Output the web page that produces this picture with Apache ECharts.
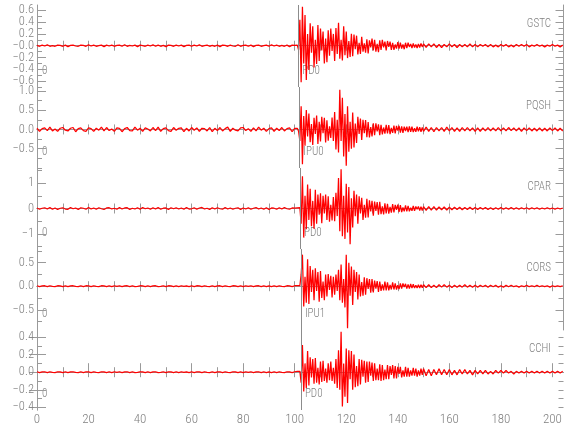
<!DOCTYPE html>
<html><head><meta charset="utf-8">
<script src="https://cdn.jsdelivr.net/npm/echarts@6/dist/echarts.min.js"></script>
<style>html,body{margin:0;padding:0;background:#fff}#c{width:580px;height:440px}</style>
</head><body><div id="c"></div>
<script>
// ---------- data ----------
const stations = ['GSTC', 'PQSH', 'CPAR', 'CORS', 'CCHI'];
const pickLabels = ['PD0', 'IPU0', 'PD0', 'IPU1', 'PD0'];
const pickTimes = [101.4, 101.8, 102.1, 102.4, 102.4];
const originLabel = '0';
const xTickLabels = [0, 20, 40, 60, 80, 100, 120, 140, 160, 180, 200];

// sampling of the three segments (seconds)
const preStart = 0, preStep = 1;
const mainStart = 101, mainStep = 0.5;
const codaStart = 151, codaStep = 1;

const gstcPre = [.005,-.01,.01,-.005,.015,-.01,0,-.01,.01,.005,
 -.01,.01,-.015,.005,.01,-.005,-.01,.01,.005,-.01,
 .015,-.005,.01,-.01,0,.01,-.015,.01,-.005,.01,
 -.01,.005,.01,-.01,.015,-.01,.005,-.005,.01,-.015,
 .01,0,-.01,.01,-.005,.015,-.01,.01,-.01,.005,
 -.015,.01,.005,-.01,.01,-.005,.01,-.015,.005,.01,
 -.01,.01,-.005,.015,-.01,0,.01,-.01,.005,-.01,
 .01,-.015,.01,.005,-.01,.01,-.005,-.01,.015,-.01,
 .005,.01,-.01,.01,-.015,.005,.01,-.01,0,.01,
 -.01,.015,-.005,.01,-.01,.005,-.01,.01,-.015,.01,
 .005];
const gstcMain = [.01,-.07,.44,-.62,.66,-.3,.52,-.58,.2,-.41,
 .38,-.12,.33,-.37,.1,-.31,.35,-.26,.29,-.08,
 .24,-.3,.12,-.28,.26,-.17,.29,-.09,.2,-.26,
 .3,-.14,.39,-.22,.1,-.25,.33,-.16,.24,-.21,
 .08,-.19,.2,-.18,.19,-.06,.17,-.15,.05,-.14,
 .15,-.1,.04,-.12,.11,-.13,.09,-.03,.12,-.08,
 .1,-.1,.03,-.11,.09,-.07,.1,-.03,.07,-.08,
 .08,-.02,.07,-.07,.05,-.07,.02,-.05,.06,-.05,
 .05,-.05,.02,-.06,.05,-.04,.05,-.02,.03,-.04,
 .04,-.03,.02,-.04,.03,-.03,.04,-.02,.03];
const gstcCoda = [-.03,.03,-.02,.03,-.03,.02,-.03,.02,-.02,.03,
 -.02,.02,-.03,.02,-.02,.02,-.02,.03,-.02,.02,
 -.02,.02,-.01,.02,-.02,.02,-.02,.01,-.02,.02,
 -.01,.02,-.02,.01,-.02,.02,-.01,.02,-.01,.02,
 -.02,.01,-.01,.02,-.01,.01,-.02,.01,-.01,.02,
 -.01,.01,-.02,.01];

const pqshPre = [.03,-.05,.02,.04,-.03,.06,-.04,.01,-.05,.03,
 .05,-.02,-.04,.03,.05,-.06,.02,.04,-.03,-.05,
 .04,.02,-.05,.03,-.02,.06,-.04,.05,-.03,.01,
 -.05,.04,.03,-.06,.02,.05,-.03,-.04,.06,-.02,
 .03,-.05,.04,.01,-.04,.05,-.03,.06,-.05,.02,
 .04,-.03,-.05,.05,-.02,.03,.04,-.06,.03,-.04,
 .05,-.02,.04,-.05,.03,.02,-.04,.05,-.06,.03,
 -.03,.05,-.04,.02,.06,-.05,.03,-.02,-.04,.04,
 .05,-.03,.02,-.05,.04,-.04,.06,-.02,.03,-.05,
 .02,.04,-.05,.03,-.03,.05,-.04,.02,.04,-.06,
 .03];
const pqshMain = [.03,-.05,-.3,.6,-.9,.35,-.42,.5,-.18,.41,
 -.33,.14,-.4,.3,-.12,.36,-.38,.2,-.31,.33,
 -.1,.3,-.34,.24,-.29,.08,-.22,.31,-.3,.45,
 -.52,.25,-.6,1.03,-.3,.82,-.7,.4,-.94,.6,
 -.58,.2,-.5,.44,-.47,.15,-.35,.33,-.12,.28,
 -.27,.25,-.1,.24,-.2,.19,-.21,.06,-.18,.16,
 -.15,.16,-.05,.13,-.15,.12,-.13,.05,-.11,.12,
 -.1,.11,-.12,.04,-.09,.1,-.1,.09,-.03,.09,
 -.08,.08,-.09,.07,-.04,.07,-.07,.08,-.06,.07,
 -.07,.03,-.06,.07,-.05,.06,-.06,.05,-.05];
const pqshCoda = [.06,-.05,.05,-.06,.05,-.04,.05,-.05,.06,-.04,
 .05,-.05,.04,-.05,.05,-.04,.05,-.04,.04,-.05,
 .04,-.05,.04,-.04,.05,-.04,.04,-.04,.05,-.04,
 .04,-.04,.05,-.03,.04,-.04,.04,-.05,.04,-.03,
 .04,-.04,.03,-.04,.04,-.04,.03,-.04,.04,-.03,
 .04,-.04,.03,-.04];

const cparPre = [.02,-.03,.01,.03,-.02,.04,-.03,.02,-.04,.01,
 .03,-.02,-.03,.04,-.01,.02,-.04,.03,.01,-.03,
 .04,-.02,.02,-.03,.03,-.01,-.04,.02,.03,-.02,
 .01,-.03,.04,-.02,.02,.03,-.04,.01,-.02,.03,
 -.03,.04,-.01,.02,-.03,.03,-.02,.04,-.03,.01,
 .02,-.04,.03,-.01,.03,-.02,.02,-.03,.04,-.02,
 -.01,.03,-.03,.02,.04,-.02,.01,-.04,.03,-.02,
 .03,-.01,-.03,.04,-.02,.02,-.03,.01,.03,-.04,
 .02,-.02,.03,-.03,.01,.04,-.02,.02,-.03,.03,
 -.04,.02,.01,-.03,.03,-.02,.04,-.01,-.03,.02,
 .01];
const cparMain = [.02,-.03,.03,-.6,1.27,-1.15,.5,-.82,.95,-.45,
 .78,-.7,.3,-.8,.74,-.6,.55,-.25,.6,-.58,
 .5,-.2,.55,-.45,.48,-.52,.15,-.47,.45,-.5,
 .62,-.3,1.2,-.9,1.55,-1.1,.5,-1.2,.98,-.95,
 .85,-1.41,.4,-.75,.7,-.3,.55,-.6,.48,-.2,
 .42,-.45,.15,-.36,.38,-.35,.32,-.12,.3,-.28,
 .27,-.1,.25,-.24,.26,-.22,.08,-.23,.2,-.19,
 .18,-.2,.06,-.16,.17,-.15,.14,-.05,.15,-.13,
 .13,-.14,.04,-.11,.12,-.11,.1,-.11,.03,-.09,
 .1,-.09,.08,-.03,.08,-.08,.07,-.08,.07];
const cparCoda = [-.07,.07,-.06,.07,-.06,.06,-.05,.06,-.06,.05,
 -.05,.05,-.04,.05,-.05,.04,-.04,.05,-.04,.04,
 -.04,.04,-.03,.04,-.04,.03,-.04,.03,-.03,.04,
 -.03,.03,-.03,.04,-.03,.03,-.03,.03,-.02,.03,
 -.03,.03,-.02,.03,-.03,.02,-.02,.03,-.02,.02,
 -.03,.02,-.02,.02];

const corsPre = [.01,-.01,.005,.01,-.01,.01,-.005,-.01,.01,.005,
 -.01,.01,-.01,.005,.01,-.005,-.01,.01,-.01,.01,
 .005,-.01,.01,-.005,-.01,.01,.005,-.01,.01,-.01,
 .01,-.005,.01,-.01,.005,.01,-.01,.01,-.01,-.005,
 .01,.005,-.01,.01,-.01,.005,.01,-.01,-.005,.01,
 -.01,.01,.005,-.01,.01,-.01,.01,-.005,.005,-.01,
 .01,-.01,.01,.005,-.01,.01,-.005,-.01,.01,-.01,
 .005,.01,-.01,.01,-.005,-.01,.01,.005,-.01,.01,
 -.01,.01,-.005,.01,-.01,.005,.01,-.01,.01,-.01,
 .005,-.01,.01,-.01,.01,-.005,-.01,.01,.005,-.01,
 .01];
const corsMain = [.01,-.02,.01,.25,.67,-.43,.2,-.35,.57,-.38,
 .43,-.12,.35,-.3,.38,-.1,.3,-.33,.32,-.25,
 .1,-.3,.25,-.22,.26,-.08,.22,-.24,.2,-.18,
 .25,-.1,.35,-.3,.46,-.35,.15,-.45,.67,-.89,
 .5,-.2,.42,-.4,.35,-.12,.3,-.28,.25,-.22,
 .09,-.2,.19,-.18,.17,-.06,.15,-.14,.15,-.13,
 .12,-.05,.11,-.12,.1,-.1,.04,-.09,.1,-.09,
 .08,-.09,.03,-.07,.08,-.07,.06,-.07,.02,-.06,
 .06,-.05,.06,-.02,.05,-.05,.04,-.05,.05,-.04,
 .04,-.04,.02,-.04,.03,-.04,.03,-.03,.03];
const corsCoda = [-.03,.03,-.03,.02,-.03,.03,-.02,.03,-.02,.02,
 -.03,.02,-.02,.02,-.02,.03,-.02,.02,-.02,.02,
 -.02,.02,-.01,.02,-.02,.02,-.01,.02,-.02,.01,
 -.02,.02,-.01,.02,-.01,.01,-.02,.01,-.01,.02,
 -.01,.01,-.01,.02,-.01,.01,-.01,.01,-.02,.01,
 -.01,.01,-.01,.01];

const cchiPre = [.005,-.005,.003,.005,-.005,.005,-.003,-.005,.005,.003,
 -.005,.005,-.005,.003,.005,-.003,-.005,.005,-.005,.005,
 .003,-.005,.005,-.003,-.005,.005,.003,-.005,.005,-.005,
 .005,-.003,.005,-.005,.003,.005,-.005,.005,-.005,-.003,
 .005,.003,-.005,.005,-.005,.003,.005,-.005,-.003,.005,
 -.005,.005,.003,-.005,.005,-.005,.005,-.003,.003,-.005,
 .005,-.005,.005,.003,-.005,.005,-.003,-.005,.005,-.005,
 .003,.005,-.005,.005,-.003,-.005,.005,.003,-.005,.005,
 -.005,.005,-.003,.005,-.005,.003,.005,-.005,.005,-.005,
 .003,-.005,.005,-.005,.005,-.003,-.005,.005,.003,-.005,
 .005];
const cchiMain = [.01,-.01,.01,-.12,.31,-.22,.1,-.18,.24,-.15,
 .17,-.06,.15,-.13,.16,-.12,.05,-.14,.12,-.11,
 .13,-.1,.04,-.12,.1,-.09,.12,-.1,.05,-.13,
 .15,-.18,.25,-.2,.46,-.39,.1,-.28,.27,-.35,
 .25,-.08,.24,-.2,.2,-.17,.07,-.16,.15,-.14,
 .14,-.05,.13,-.12,.12,-.11,.12,-.04,.11,-.1,
 .1,-.09,.04,-.09,.09,-.1,.08,-.09,.03,-.08,
 .08,-.08,.07,-.03,.08,-.07,.07,-.07,.06,-.02,
 .06,-.06,.02,-.05,.06,-.05,.05,-.05,.02,-.04,
 .05,-.04,.04,-.05,.02,-.04,.04,-.03,.04];
const cchiCoda = [-.04,.03,-.04,.03,-.03,.04,-.03,.03,-.03,.03,
 -.03,.02,-.03,.03,-.02,.03,-.02,.02,-.03,.02,
 -.02,.02,-.02,.02,-.02,.01,-.02,.02,-.01,.02,
 -.01,.02,-.01,.01,-.02,.01,-.01,.01,-.01,.01,
 -.01,.01,-.01,.01,-.01,.01,-.01,.01,-.01,.01,
 -.01,.01,-.01,.01];

// axis ranges and labels per panel
const yMins = [-0.70, -1.0, -1.6, -0.93, -0.43];
const yMaxs = [0.69, 1.10, 1.6, 0.79, 0.48];
const yLabelValues = [[-0.6,-0.4,-0.2,0,0.2,0.4,0.6],[-0.5,0,0.5,1.0],[-1,0,1],[-0.5,0,0.5],[-0.4,-0.2,0,0.2,0.4]];
const yLabelTexts = [['−0.6','−0.4','−0.2','−0.0','0.2','0.4','0.6'],['−0.5','0.0','0.5','1.0'],['−1','0','1'],['−0.5','0.0','0.5'],['−0.4','−0.2','0.0','0.2','0.4']];
const yMinorSteps = [0.1, 0.25, 0.5, 0.25, 0.1];

// ---------- layout / style ----------
const traces = [
  [gstcPre, gstcMain, gstcCoda],
  [pqshPre, pqshMain, pqshCoda],
  [cparPre, cparMain, cparCoda],
  [corsPre, corsMain, corsCoda],
  [cchiPre, cchiMain, cchiCoda]
];
const gridTops = [5, 87, 168, 249, 330];
const gridHeights = [82, 81, 81, 81, 80];
const LEFT = 37, RIGHT = 16.5;
const X_MIN = 0, X_MAX = 204.3;
const AX = '#9a9a9a', TXT = '#808080';
const FONT = "'Roboto Condensed','DejaVu Sans Condensed',sans-serif";
const FW = 300;

function buildData(tr) {
  const out = [];
  tr[0].forEach((v, i) => out.push([preStart + i * preStep, v]));
  tr[1].forEach((v, i) => out.push([mainStart + i * mainStep, v]));
  tr[2].forEach((v, i) => out.push([codaStart + i * codaStep, v]));
  return out;
}
function steps(min, max, step) {
  const r = [];
  for (let k = Math.ceil(min / step - 1e-9); k * step <= max + 1e-9; k++) r.push(+(k * step).toFixed(4));
  return r;
}
const xTens = steps(0, 200, 10);
const xMinor = xTens.filter(v => v % 20 !== 0);

const grids = [], xAxes = [], yAxes = [], series = [];
for (let i = 0; i < 5; i++) {
  grids.push({ left: LEFT, right: RIGHT, top: gridTops[i], height: gridHeights[i], outerBoundsMode: 'none', containLabel: false });
  const last = i === 4;
  const xBase = { type: 'value', gridIndex: i, min: X_MIN, max: X_MAX, splitLine: { show: false },
    axisLine: { show: true, lineStyle: { color: AX, width: 1 } } };
  const xi = xAxes.length;
  xAxes.push(Object.assign({}, xBase, { position: 'bottom',
    axisTick: { show: true, inside: true, length: last ? 9 : 5, lineStyle: { color: AX }, customValues: last ? xTickLabels : xTens },
    axisLabel: { show: last, interval: 0, customValues: xTickLabels, color: TXT, fontSize: 13, fontWeight: FW, fontFamily: FONT, margin: 3, showMinLabel: true, showMaxLabel: true } }));
  if (last) {
    xAxes.push(Object.assign({}, xBase, { position: 'bottom', axisLine: { show: false },
      axisTick: { show: true, inside: true, length: 5, lineStyle: { color: AX }, customValues: xMinor },
      axisLabel: { show: false } }));
  }
  xAxes.push(Object.assign({}, xBase, { position: 'top',
    axisTick: { show: true, inside: true, length: 5, lineStyle: { color: AX }, customValues: xTens },
    axisLabel: { show: false } }));

  const yBase = { type: 'value', gridIndex: i, min: yMins[i], max: yMaxs[i], splitLine: { show: false } };
  const minors = steps(yMins[i], yMaxs[i], yMinorSteps[i]);
  const yi = yAxes.length;
  const labVals = yLabelValues[i], labTxt = yLabelTexts[i];
  const fmt = v => { let b = 0; labVals.forEach((lv, k) => { if (Math.abs(lv - v) < Math.abs(labVals[b] - v)) b = k; }); return labTxt[b]; };
  const labStyle = { color: TXT, fontSize: 12.5, fontWeight: FW, fontFamily: FONT, margin: 3,
    showMinLabel: true, showMaxLabel: true, hideOverlap: false, formatter: fmt };
  // labels split over two overlapping axes so that none gets dropped
  const setA = labVals.filter((v, k) => k % 2 === 0), setB = labVals.filter((v, k) => k % 2 === 1);
  yAxes.push(Object.assign({}, yBase, { position: 'left',
    axisLine: { show: true, lineStyle: { color: AX } },
    axisTick: { show: true, inside: true, length: 9, lineStyle: { color: AX }, customValues: labVals },
    axisLabel: Object.assign({ show: true, customValues: setA }, labStyle) }));
  yAxes.push(Object.assign({}, yBase, { position: 'left', axisLine: { show: false },
    axisTick: { show: true, inside: true, length: 5, lineStyle: { color: AX }, customValues: minors },
    axisLabel: Object.assign({ show: setB.length > 0, customValues: setB.length ? setB : [0] }, labStyle) }));
  yAxes.push(Object.assign({}, yBase, { position: 'right',
    axisLine: { show: true, lineStyle: { color: AX } },
    axisTick: { show: true, inside: true, length: 8, lineStyle: { color: AX }, customValues: labVals },
    axisLabel: { show: false } }));
  yAxes.push(Object.assign({}, yBase, { position: 'right', axisLine: { show: false },
    axisTick: { show: true, inside: true, length: 5, lineStyle: { color: AX }, customValues: minors },
    axisLabel: { show: false } }));

  series.push({
    type: 'line', xAxisIndex: xi, yAxisIndex: yi, data: buildData(traces[i]),
    showSymbol: false, symbol: 'none', sampling: null, silent: true, animation: false,
    lineStyle: { color: '#ff0000', width: 1.25 },
    markLine: { silent: true, symbol: 'none', animation: false, label: { show: false },
      lineStyle: { color: '#8c8c8c', width: 1, type: 'solid' },
      data: [{ xAxis: pickTimes[i] }] }
  });
}

const chart = echarts.init(document.getElementById('c'), null, { renderer: 'canvas' });
chart.setOption({ animation: false, grid: grids, xAxis: xAxes, yAxis: yAxes, series: series });

// annotation texts positioned through the axes
const graphics = [];
const tStyle = t => ({ text: t, fill: TXT, fontSize: 13, fontWeight: FW, fontFamily: FONT, textVerticalAlign: 'middle' });
for (let i = 0; i < 5; i++) {
  const top = gridTops[i], h = gridHeights[i];
  const px = chart.convertToPixel({ xAxisIndex: series[i].xAxisIndex }, pickTimes[i]);
  const labelY = top + 0.8 * h;
  graphics.push({ type: 'text', x: px + 4, y: labelY, scaleX: 0.85, style: Object.assign(tStyle(pickLabels[i]), { textAlign: 'left' }) });
  graphics.push({ type: 'text', x: 42, y: labelY, scaleX: 0.85, style: Object.assign(tStyle(originLabel), { textAlign: 'left' }) });
  graphics.push({ type: 'text', x: 551, y: top + 19, scaleX: 0.85, style: Object.assign(tStyle(stations[i]), { textAlign: 'right' }) });
}
chart.setOption({ graphic: graphics });
</script>
</body></html>
